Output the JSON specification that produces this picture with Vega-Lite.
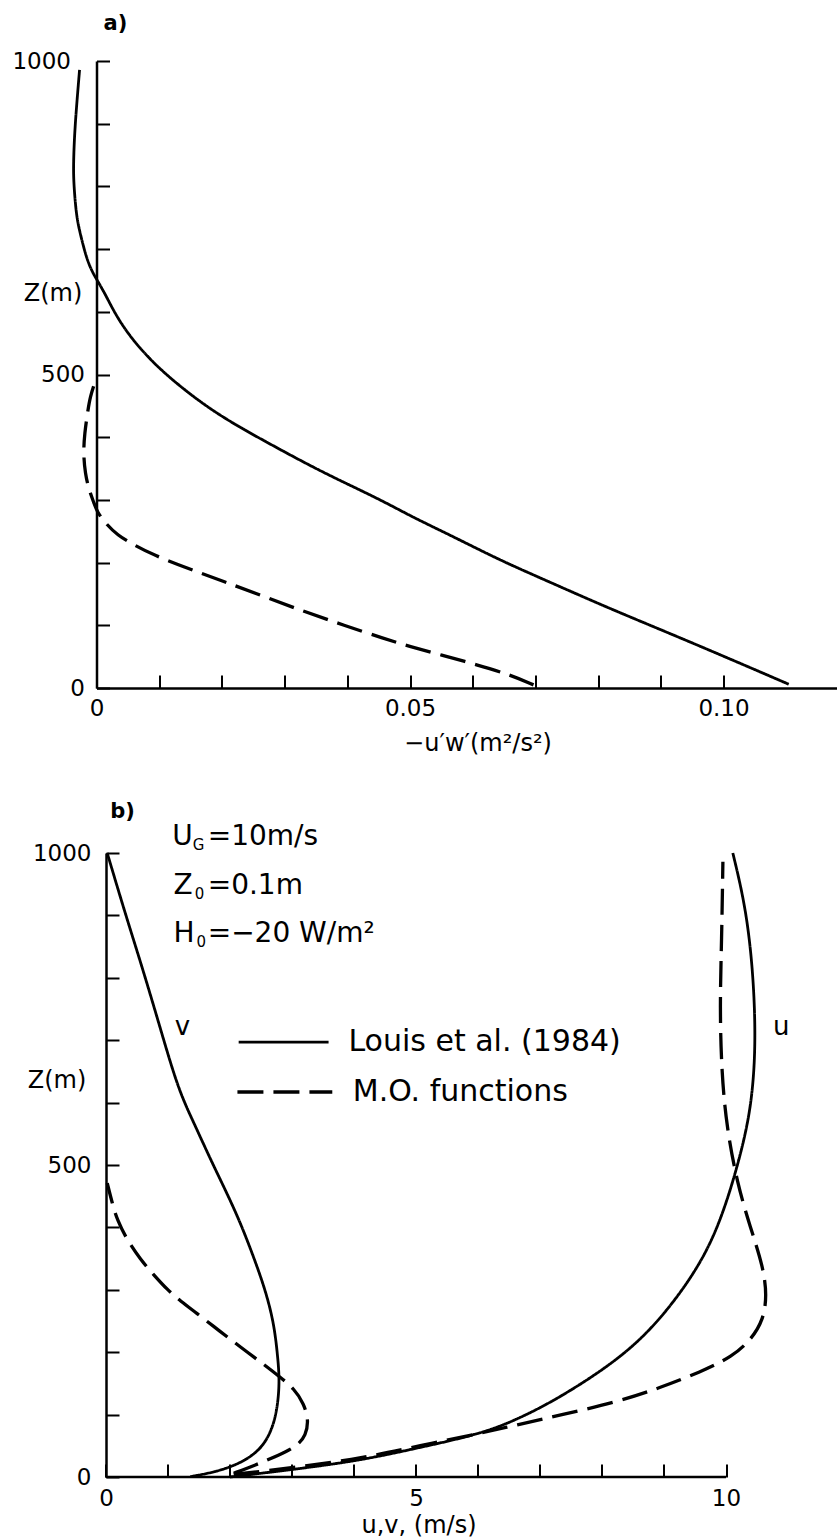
{
  "$schema": "https://vega.github.io/schema/vega-lite/v6.json",
  "background": "white",
  "padding": {"left": 11.5, "top": 13, "right": 0, "bottom": 0},
  "spacing": 165,
  "bounds": "flush",
  "config": {
    "view": {"stroke": null},
    "font": "DejaVu Sans",
    "axis": {
      "grid": false,
      "domainColor": "black",
      "domainWidth": 2.5,
      "tickColor": "black",
      "tickWidth": 2,
      "labelColor": "black",
      "titleColor": "black",
      "labelFont": "DejaVu Sans",
      "titleFont": "DejaVu Sans",
      "labelFontSize": 23,
      "titleFontSize": 24,
      "titleFontWeight": "normal",
      "labelFlush": false,
      "labelOverlap": false
    }
  },
  "vconcat": [
    {
      "width": 741,
      "height": 627,
      "layer": [
        {
          "data": {"values": [
            {"model": "Louis", "x": -0.0027, "z": 986},
            {"model": "Louis", "x": -0.0031, "z": 938},
            {"model": "Louis", "x": -0.0035, "z": 885},
            {"model": "Louis", "x": -0.0037, "z": 831},
            {"model": "Louis", "x": -0.0036, "z": 800},
            {"model": "Louis", "x": -0.0032, "z": 752},
            {"model": "Louis", "x": -0.0026, "z": 725},
            {"model": "Louis", "x": -0.0018, "z": 693},
            {"model": "Louis", "x": -0.001, "z": 670},
            {"model": "Louis", "x": 0.0, "z": 652},
            {"model": "Louis", "x": 0.0013, "z": 630},
            {"model": "Louis", "x": 0.0028, "z": 600},
            {"model": "Louis", "x": 0.0048, "z": 568},
            {"model": "Louis", "x": 0.0075, "z": 535},
            {"model": "Louis", "x": 0.0113, "z": 497},
            {"model": "Louis", "x": 0.0187, "z": 439},
            {"model": "Louis", "x": 0.0273, "z": 391},
            {"model": "Louis", "x": 0.0362, "z": 343},
            {"model": "Louis", "x": 0.0448, "z": 303},
            {"model": "Louis", "x": 0.0503, "z": 273},
            {"model": "Louis", "x": 0.057, "z": 241},
            {"model": "Louis", "x": 0.0643, "z": 204},
            {"model": "Louis", "x": 0.0716, "z": 172},
            {"model": "Louis", "x": 0.0806, "z": 132},
            {"model": "Louis", "x": 0.09, "z": 93},
            {"model": "Louis", "x": 0.0995, "z": 53},
            {"model": "Louis", "x": 0.1104, "z": 6},
            {"model": "MO", "x": -0.0002, "z": 489},
            {"model": "MO", "x": -0.001, "z": 465},
            {"model": "MO", "x": -0.0014, "z": 441},
            {"model": "MO", "x": -0.0019, "z": 406},
            {"model": "MO", "x": -0.0021, "z": 374},
            {"model": "MO", "x": -0.0018, "z": 342},
            {"model": "MO", "x": -0.0012, "z": 316},
            {"model": "MO", "x": -0.0004, "z": 295},
            {"model": "MO", "x": 0.0001, "z": 281},
            {"model": "MO", "x": 0.0014, "z": 263},
            {"model": "MO", "x": 0.0033, "z": 244},
            {"model": "MO", "x": 0.006, "z": 228},
            {"model": "MO", "x": 0.0091, "z": 212},
            {"model": "MO", "x": 0.0145, "z": 191},
            {"model": "MO", "x": 0.0203, "z": 170},
            {"model": "MO", "x": 0.0267, "z": 146},
            {"model": "MO", "x": 0.0331, "z": 122},
            {"model": "MO", "x": 0.0395, "z": 100},
            {"model": "MO", "x": 0.0458, "z": 79},
            {"model": "MO", "x": 0.05, "z": 66},
            {"model": "MO", "x": 0.0549, "z": 53},
            {"model": "MO", "x": 0.0607, "z": 37},
            {"model": "MO", "x": 0.066, "z": 21},
            {"model": "MO", "x": 0.0697, "z": 5}
          ]},
          "mark": {"type": "line", "interpolate": "basis", "clip": false, "color": "black"},
          "encoding": {
            "x": {
              "field": "x", "type": "quantitative",
              "scale": {"domain": [0, 0.11818], "nice": false, "zero": false},
              "axis": {
                "values": [0, 0.01, 0.02, 0.03, 0.04, 0.05, 0.06, 0.07, 0.08, 0.09, 0.1],
                "tickSize": -13,
                "labelExpr": "round(datum.value*100) == 0 ? '0' : (round(datum.value*100) % 5 == 0 ? format(datum.value, '.2f') : '')",
                "labelBaseline": "middle",
                "labelPadding": 33,
                "title": "−u′w′(m²/s²)",
                "titleX": 381,
                "titleY": 55,
                "titleAlign": "center",
                "titleBaseline": "middle",
                "titleAnchor": null
              }
            },
            "y": {
              "field": "z", "type": "quantitative",
              "scale": {"domain": [0, 1000], "nice": false, "zero": false},
              "axis": {
                "values": [0, 100, 200, 300, 400, 500, 600, 700, 800, 900, 1000],
                "tickSize": -13,
                "format": "d",
                "labelExpr": "datum.value % 500 == 0 ? datum.label : ''",
                "labelBaseline": "middle",
                "labelPadding": {"condition": {"test": "datum.value == 1000", "value": 39}, "value": 25},
                "title": "Z(m)",
                "titleAngle": 0,
                "titleX": -44,
                "titleY": 232,
                "titleAlign": "center",
                "titleBaseline": "middle",
                "titleAnchor": null
              }
            },
            "order": {"field": "z", "type": "quantitative"},
            "detail": {"field": "model"},
            "strokeDash": {"field": "model", "type": "nominal", "scale": {"domain": ["Louis", "MO"], "range": [[1, 0], [26, 10]]}, "legend": null},
            "strokeWidth": {"field": "model", "type": "nominal", "scale": {"domain": ["Louis", "MO"], "range": [2.8, 3.3]}, "legend": null}
          }
        },
        {
          "data": {"values": [{"t": "a)", "x": 0.00303, "z": 1059}]},
          "mark": {"type": "text", "fontWeight": "bold", "fontSize": 21, "align": "center", "baseline": "middle", "color": "black", "font": "DejaVu Sans"},
          "encoding": {
            "x": {"field": "x", "type": "quantitative"},
            "y": {"field": "z", "type": "quantitative"},
            "text": {"field": "t"}
          }
        }
      ]
    },
    {
      "width": 629.5,
      "height": 624,
      "layer": [
        {
          "data": {"values": [
            {"var": "v", "model": "Louis", "x": 0.02, "z": 1000},
            {"var": "v", "model": "Louis", "x": 0.31, "z": 903},
            {"var": "v", "model": "Louis", "x": 0.6, "z": 812},
            {"var": "v", "model": "Louis", "x": 0.9, "z": 711},
            {"var": "v", "model": "Louis", "x": 1.17, "z": 620},
            {"var": "v", "model": "Louis", "x": 1.42, "z": 567},
            {"var": "v", "model": "Louis", "x": 1.69, "z": 508},
            {"var": "v", "model": "Louis", "x": 1.95, "z": 455},
            {"var": "v", "model": "Louis", "x": 2.17, "z": 407},
            {"var": "v", "model": "Louis", "x": 2.38, "z": 353},
            {"var": "v", "model": "Louis", "x": 2.57, "z": 300},
            {"var": "v", "model": "Louis", "x": 2.71, "z": 246},
            {"var": "v", "model": "Louis", "x": 2.77, "z": 193},
            {"var": "v", "model": "Louis", "x": 2.8, "z": 155},
            {"var": "v", "model": "Louis", "x": 2.77, "z": 113},
            {"var": "v", "model": "Louis", "x": 2.68, "z": 75},
            {"var": "v", "model": "Louis", "x": 2.49, "z": 43},
            {"var": "v", "model": "Louis", "x": 2.17, "z": 22},
            {"var": "v", "model": "Louis", "x": 1.79, "z": 8.5},
            {"var": "v", "model": "Louis", "x": 1.36, "z": 0.5},
            {"var": "v", "model": "MO", "x": 0.02, "z": 471},
            {"var": "v", "model": "MO", "x": 0.1, "z": 439},
            {"var": "v", "model": "MO", "x": 0.18, "z": 412},
            {"var": "v", "model": "MO", "x": 0.34, "z": 380},
            {"var": "v", "model": "MO", "x": 0.56, "z": 348},
            {"var": "v", "model": "MO", "x": 0.77, "z": 324},
            {"var": "v", "model": "MO", "x": 0.99, "z": 300},
            {"var": "v", "model": "MO", "x": 1.2, "z": 282},
            {"var": "v", "model": "MO", "x": 1.47, "z": 262},
            {"var": "v", "model": "MO", "x": 1.74, "z": 241},
            {"var": "v", "model": "MO", "x": 1.99, "z": 222},
            {"var": "v", "model": "MO", "x": 2.28, "z": 200},
            {"var": "v", "model": "MO", "x": 2.55, "z": 180},
            {"var": "v", "model": "MO", "x": 2.81, "z": 160},
            {"var": "v", "model": "MO", "x": 3.03, "z": 142},
            {"var": "v", "model": "MO", "x": 3.19, "z": 118},
            {"var": "v", "model": "MO", "x": 3.27, "z": 91},
            {"var": "v", "model": "MO", "x": 3.22, "z": 66},
            {"var": "v", "model": "MO", "x": 3.1, "z": 52},
            {"var": "v", "model": "MO", "x": 2.92, "z": 41},
            {"var": "v", "model": "MO", "x": 2.6, "z": 27},
            {"var": "v", "model": "MO", "x": 2.28, "z": 14},
            {"var": "v", "model": "MO", "x": 2.06, "z": 6},
            {"var": "u", "model": "Louis", "x": 2.0, "z": 0},
            {"var": "u", "model": "Louis", "x": 3.1, "z": 13},
            {"var": "u", "model": "Louis", "x": 4.13, "z": 27},
            {"var": "u", "model": "Louis", "x": 5.05, "z": 47},
            {"var": "u", "model": "Louis", "x": 6.09, "z": 70},
            {"var": "u", "model": "Louis", "x": 6.74, "z": 97},
            {"var": "u", "model": "Louis", "x": 7.44, "z": 134},
            {"var": "u", "model": "Louis", "x": 8.5, "z": 204},
            {"var": "u", "model": "Louis", "x": 9.2, "z": 284},
            {"var": "u", "model": "Louis", "x": 9.69, "z": 359},
            {"var": "u", "model": "Louis", "x": 9.97, "z": 428},
            {"var": "u", "model": "Louis", "x": 10.16, "z": 490},
            {"var": "u", "model": "Louis", "x": 10.32, "z": 551},
            {"var": "u", "model": "Louis", "x": 10.43, "z": 615},
            {"var": "u", "model": "Louis", "x": 10.48, "z": 700},
            {"var": "u", "model": "Louis", "x": 10.44, "z": 808},
            {"var": "u", "model": "Louis", "x": 10.32, "z": 913},
            {"var": "u", "model": "Louis", "x": 10.11, "z": 1000},
            {"var": "u", "model": "MO", "x": 2.06, "z": 4},
            {"var": "u", "model": "MO", "x": 3.1, "z": 16},
            {"var": "u", "model": "MO", "x": 4.13, "z": 30},
            {"var": "u", "model": "MO", "x": 5.05, "z": 50},
            {"var": "u", "model": "MO", "x": 6.09, "z": 71},
            {"var": "u", "model": "MO", "x": 6.6, "z": 83},
            {"var": "u", "model": "MO", "x": 7.32, "z": 99},
            {"var": "u", "model": "MO", "x": 8.24, "z": 120},
            {"var": "u", "model": "MO", "x": 8.94, "z": 143},
            {"var": "u", "model": "MO", "x": 9.58, "z": 168},
            {"var": "u", "model": "MO", "x": 10.11, "z": 193},
            {"var": "u", "model": "MO", "x": 10.42, "z": 222},
            {"var": "u", "model": "MO", "x": 10.6, "z": 252},
            {"var": "u", "model": "MO", "x": 10.66, "z": 290},
            {"var": "u", "model": "MO", "x": 10.6, "z": 337},
            {"var": "u", "model": "MO", "x": 10.39, "z": 401},
            {"var": "u", "model": "MO", "x": 10.18, "z": 471},
            {"var": "u", "model": "MO", "x": 10.01, "z": 561},
            {"var": "u", "model": "MO", "x": 9.93, "z": 647},
            {"var": "u", "model": "MO", "x": 9.9, "z": 753},
            {"var": "u", "model": "MO", "x": 9.93, "z": 861},
            {"var": "u", "model": "MO", "x": 9.95, "z": 986}
          ]},
          "mark": {"type": "line", "interpolate": "basis", "clip": false, "color": "black"},
          "encoding": {
            "x": {
              "field": "x", "type": "quantitative",
              "scale": {"domain": [-0.153, 10], "nice": false, "zero": false},
              "axis": {
                "values": [0, 1, 2, 3, 4, 5, 6, 7, 8, 9, 10],
                "domain": false,
                "tickSize": -13,
                "labelExpr": "datum.value % 5 == 0 ? format(datum.value, 'd') : ''",
                "labelBaseline": "middle",
                "labelPadding": 34,
                "title": "u,v, (m/s)",
                "titleX": 322,
                "titleY": 48,
                "titleAlign": "center",
                "titleBaseline": "middle",
                "titleAnchor": null
              }
            },
            "y": {
              "field": "z", "type": "quantitative",
              "scale": {"domain": [0, 1000], "nice": false, "zero": false},
              "axis": {
                "offset": -9.5,
                "values": [0, 100, 200, 300, 400, 500, 600, 700, 800, 900, 1000],
                "tickSize": -13,
                "format": "d",
                "labelExpr": "datum.value % 500 == 0 ? datum.label : ''",
                "labelBaseline": "middle",
                "labelPadding": 28,
                "title": "Z(m)",
                "titleAngle": 0,
                "titleX": -49.5,
                "titleY": 227,
                "titleAlign": "center",
                "titleBaseline": "middle",
                "titleAnchor": null
              }
            },
            "order": {"field": "z", "type": "quantitative"},
            "detail": [{"field": "var"}, {"field": "model"}],
            "strokeDash": {"field": "model", "type": "nominal", "scale": {"domain": ["Louis", "MO"], "range": [[1, 0], [26, 10]]}, "legend": null},
            "strokeWidth": {"field": "model", "type": "nominal", "scale": {"domain": ["Louis", "MO"], "range": [2.8, 3.3]}, "legend": null}
          }
        },
        {
          "data": {"values": [{}]},
          "mark": {"type": "rule", "color": "black", "strokeWidth": 2.5},
          "encoding": {
            "x": {"datum": 0, "type": "quantitative"},
            "x2": {"datum": 10},
            "y": {"datum": 0, "type": "quantitative"}
          }
        },
        {
          "data": {"values": [
            {"model": "Louis", "x": 2.14, "x2": 3.59, "z": 697},
            {"model": "MO", "x": 2.12, "x2": 3.65, "z": 617}
          ]},
          "mark": {"type": "rule", "color": "black"},
          "encoding": {
            "x": {"field": "x", "type": "quantitative"},
            "x2": {"field": "x2"},
            "y": {"field": "z", "type": "quantitative"},
            "strokeDash": {"field": "model", "type": "nominal", "scale": {"domain": ["Louis", "MO"], "range": [[1, 0], [26, 10]]}, "legend": null},
            "strokeWidth": {"field": "model", "type": "nominal", "scale": {"domain": ["Louis", "MO"], "range": [2.8, 3.3]}, "legend": null}
          }
        },
        {
          "data": {"values": [
            {"t": "U", "x": 1.07, "z": 1013},
            {"t": "=10m/s", "x": 1.64, "z": 1013},
            {"t": "Z", "x": 1.09, "z": 934},
            {"t": "=0.1m", "x": 1.64, "z": 934},
            {"t": "H", "x": 1.09, "z": 857},
            {"t": "=−20 W/m²", "x": 1.64, "z": 857}
          ]},
          "mark": {"type": "text", "fontSize": 28, "align": "left", "baseline": "alphabetic", "color": "black", "font": "DejaVu Sans"},
          "encoding": {
            "x": {"field": "x", "type": "quantitative"},
            "y": {"field": "z", "type": "quantitative"},
            "text": {"field": "t"}
          }
        },
        {
          "data": {"values": [
            {"t": "G", "x": 1.4, "z": 1005},
            {"t": "0", "x": 1.43, "z": 926},
            {"t": "0", "x": 1.46, "z": 849}
          ]},
          "mark": {"type": "text", "fontSize": 15, "align": "left", "baseline": "alphabetic", "color": "black", "font": "DejaVu Sans"},
          "encoding": {
            "x": {"field": "x", "type": "quantitative"},
            "y": {"field": "z", "type": "quantitative"},
            "text": {"field": "t"}
          }
        },
        {
          "data": {"values": [
            {"t": "Louis et al. (1984)", "x": 3.91, "z": 697},
            {"t": "M.O. functions", "x": 3.98, "z": 617}
          ]},
          "mark": {"type": "text", "fontSize": 30, "align": "left", "baseline": "middle", "color": "black", "font": "DejaVu Sans"},
          "encoding": {
            "x": {"field": "x", "type": "quantitative"},
            "y": {"field": "z", "type": "quantitative"},
            "text": {"field": "t"}
          }
        },
        {
          "data": {"values": [
            {"t": "v", "x": 1.234, "z": 721},
            {"t": "u", "x": 10.89, "z": 721}
          ]},
          "mark": {"type": "text", "fontSize": 26, "align": "center", "baseline": "middle", "color": "black", "font": "DejaVu Sans"},
          "encoding": {
            "x": {"field": "x", "type": "quantitative"},
            "y": {"field": "z", "type": "quantitative"},
            "text": {"field": "t"}
          }
        },
        {
          "data": {"values": [{"t": "b)", "x": 0.266, "z": 1066}]},
          "mark": {"type": "text", "fontWeight": "bold", "fontSize": 21, "align": "center", "baseline": "middle", "color": "black", "font": "DejaVu Sans"},
          "encoding": {
            "x": {"field": "x", "type": "quantitative"},
            "y": {"field": "z", "type": "quantitative"},
            "text": {"field": "t"}
          }
        }
      ]
    }
  ]
}
